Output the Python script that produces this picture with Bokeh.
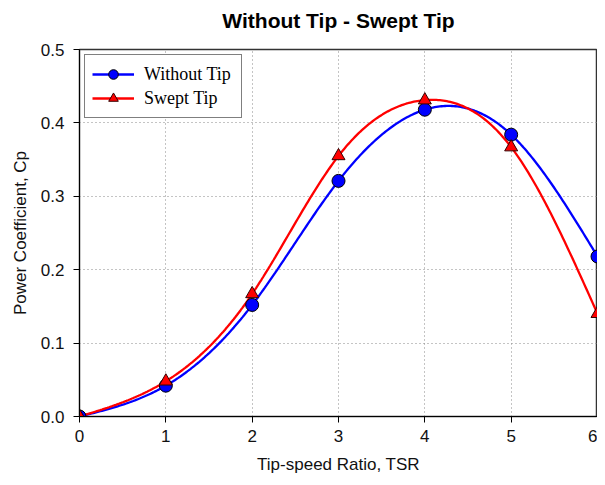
import numpy as np
from bokeh.plotting import figure
from bokeh.models import Legend, LegendItem, NumeralTickFormatter, FixedTicker
from bokeh.embed import file_html
from bokeh.resources import INLINE

# ---- data ----
tsr = [0, 1, 2, 3, 4, 5, 6]
cp_without_tip = [0.0, 0.042, 0.152, 0.321, 0.418, 0.384, 0.218]
cp_swept_tip = [0.0, 0.048, 0.167, 0.355, 0.431, 0.367, 0.140]
x_ticks = [0, 1, 2, 3, 4, 5, 6]
y_ticks = [0.0, 0.1, 0.2, 0.3, 0.4, 0.5]


def natural_spline(xs, ys, n=300):
    xs = np.asarray(xs, float)
    ys = np.asarray(ys, float)
    m = len(xs)
    h = np.diff(xs)
    A = np.zeros((m, m))
    b = np.zeros(m)
    A[0, 0] = 1.0
    A[-1, -1] = 1.0
    for i in range(1, m - 1):
        A[i, i - 1] = h[i - 1]
        A[i, i] = 2 * (h[i - 1] + h[i])
        A[i, i + 1] = h[i]
        b[i] = 6 * ((ys[i + 1] - ys[i]) / h[i] - (ys[i] - ys[i - 1]) / h[i - 1])
    M = np.linalg.solve(A, b)
    xx = np.linspace(xs[0], xs[-1], n)
    yy = np.empty_like(xx)
    for k, xv in enumerate(xx):
        i = min(np.searchsorted(xs, xv, side="right") - 1, m - 2)
        t0 = xs[i + 1] - xv
        t1 = xv - xs[i]
        hi = h[i]
        yy[k] = (M[i] * t0 ** 3 / (6 * hi) + M[i + 1] * t1 ** 3 / (6 * hi)
                 + (ys[i] / hi - M[i] * hi / 6) * t0
                 + (ys[i + 1] / hi - M[i + 1] * hi / 6) * t1)
    return xx, yy


p = figure(width=597, height=476, x_range=(0, 6), y_range=(0, 0.5),
           output_backend="svg", toolbar_location=None,
           title="Without Tip - Swept Tip",
           min_border_left=79, min_border_right=0, min_border_top=49,
           min_border_bottom=60)

p.title.align = "center"
p.title.text_font = "Liberation Sans"
p.title.text_font_size = "21px"
p.title.text_font_style = "bold"
p.title.text_color = "black"
p.title.standoff = 0
try:
    p.title.padding = dict(left=0, right=0, top=0, bottom=18)
except Exception:
    p.title.standoff = 20

p.outline_line_color = "#333333"
p.outline_line_width = 1.5

for ax in (p.xaxis[0], p.yaxis[0]):
    ax.axis_line_color = "black"
    ax.axis_line_width = 1
    ax.major_tick_in = 0
    ax.major_tick_out = 6
    ax.minor_tick_line_color = None
    ax.major_label_text_font = "Liberation Sans"
    ax.major_label_text_font_size = "17px"
    ax.major_label_text_color = "#111111"
    ax.axis_label_text_font = "Liberation Sans"
    ax.axis_label_text_font_size = "17px"
    ax.axis_label_text_font_style = "normal"
    ax.axis_label_text_color = "#111111"

p.xaxis.ticker = FixedTicker(ticks=x_ticks)
p.yaxis.ticker = FixedTicker(ticks=y_ticks)
p.yaxis.formatter = NumeralTickFormatter(format="0.0")
p.xaxis.axis_label = "Tip-speed Ratio, TSR"
p.yaxis.axis_label = "Power Coefficient, Cp"
p.xaxis.major_label_standoff = 7
p.yaxis.major_label_standoff = 9
p.xaxis.axis_label_standoff = 10
p.yaxis.axis_label_standoff = 8

p.grid.grid_line_color = "#888888"
p.grid.grid_line_dash = "1 3"
p.grid.grid_line_width = 1

bx, by = natural_spline(tsr, cp_without_tip)
rx, ry = natural_spline(tsr, cp_swept_tip)

l1 = p.line(bx, by, line_color="blue", line_width=2.3)
l2 = p.line(rx, ry, line_color="red", line_width=2.3)
s1 = p.scatter(tsr, cp_without_tip, marker="circle", size=13,
               fill_color="blue", line_color="black", line_width=1)
s2 = p.scatter(tsr, cp_swept_tip, marker="triangle", size=13,
               fill_color="red", line_color="#330000", line_width=1)

legend = Legend(items=[
    LegendItem(label="Without Tip", renderers=[l1, s1]),
    LegendItem(label="Swept Tip", renderers=[l2, s2]),
], location="top_left")
legend.label_text_font = "Liberation Serif"
legend.label_text_font_size = "18px"
legend.label_text_color = "black"
legend.glyph_width = 42
legend.glyph_height = 24
legend.label_height = 20
legend.label_width = 90
legend.label_standoff = 10
legend.padding = 7
legend.spacing = 0
legend.margin = 5
legend.border_line_color = "black"
legend.border_line_width = 1.2
legend.background_fill_alpha = 1
p.add_layout(legend)

open("out.html", "w").write(file_html(p, INLINE))
